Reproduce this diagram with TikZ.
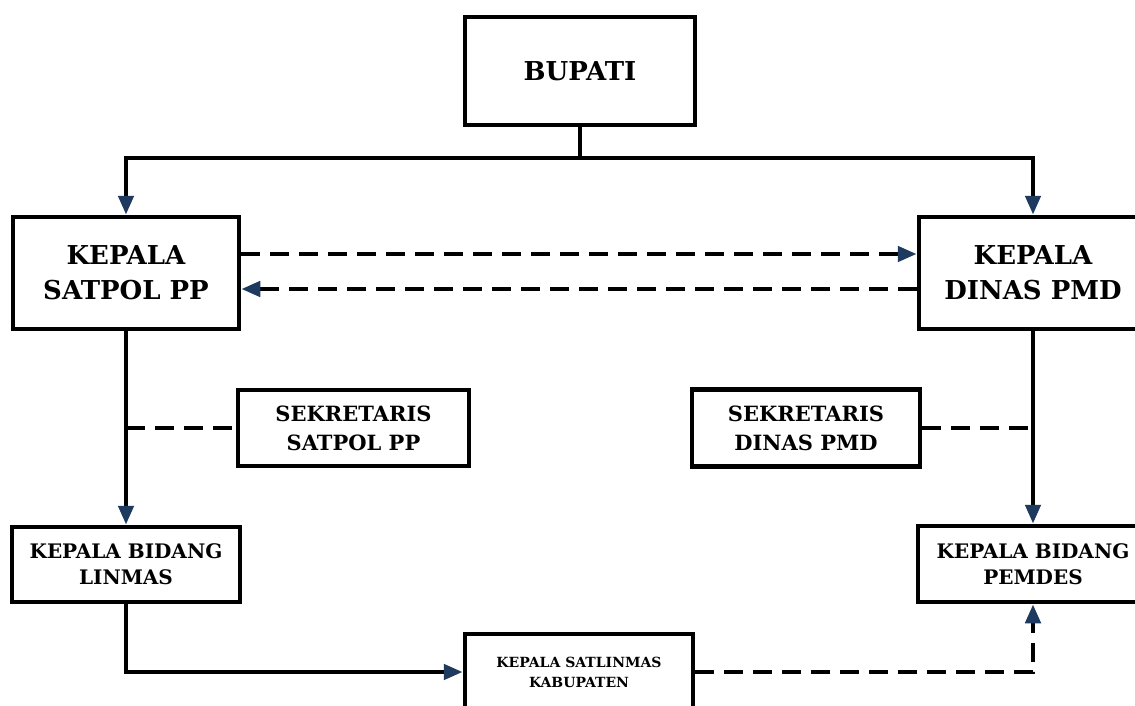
\documentclass[tikz,border=0pt]{standalone}
\usepackage{fontspec}
\setmainfont{DejaVu Serif}
\usetikzlibrary{arrows.meta}
\definecolor{navy}{HTML}{1F3A5F}
\begin{document}
\begin{tikzpicture}[x=1pt,y=-1pt,
  box/.style={draw, line width=4.5pt, inner sep=0pt, align=center},
  big/.style={font=\bfseries\fontsize{26}{35}\selectfont},
  sek/.style={font=\bfseries\fontsize{21}{29}\selectfont},
  bid/.style={font=\bfseries\fontsize{20}{26}\selectfont},
  sml/.style={font=\bfseries\fontsize{14}{20}\selectfont},
  conn/.style={line width=4.5pt},
  dsh/.style={line width=4.5pt, dash pattern=on 19pt off 10pt},
  tip/.style={-{Triangle[length=19pt,width=15pt,color=navy]}}]
\clip (0,0) rectangle (1135,706);
\fill[white] (0,0) rectangle (1135,706);
\node[box, big, minimum width=230pt, minimum height=108pt] (bupati) at (580,71) {BUPATI};
\node[box, big, minimum width=226pt, minimum height=112pt] (satpol) at (126,273) {KEPALA\\SATPOL PP};
\node[box, big, minimum width=228pt, minimum height=112pt] (dinas) at (1033,273) {KEPALA\\DINAS PMD};
\node[box, sek, minimum width=231pt, minimum height=76pt] (seksat) at (353.5,428) {SEKRETARIS\\SATPOL PP};
\node[box, sek, minimum width=228pt, minimum height=77pt] (sekdin) at (806,428) {SEKRETARIS\\DINAS PMD};
\node[box, bid, minimum width=228pt, minimum height=75pt] (linmas) at (126,564.5) {KEPALA BIDANG\\LINMAS};
\node[box, bid, minimum width=230pt, minimum height=76pt] (pemdes) at (1033,564) {KEPALA BIDANG\\PEMDES};
\node[box, sml, minimum width=228pt, minimum height=76pt] (satlin) at (579,672) {KEPALA SATLINMAS\\KABUPATEN};
\coordinate (top) at (580,158);
\draw[conn] (bupati.south) -- (top);
\draw[conn, tip] (top) -| (satpol.north);
\draw[conn, tip] (top) -| (dinas.north);
\draw[dsh, tip] ([yshift=19pt]satpol.east) -- ([yshift=19pt]dinas.west);
\draw[dsh, tip] ([yshift=-16pt]dinas.west) -- ([yshift=-16pt]satpol.east);
\draw[conn, tip] (satpol.south) -- (linmas.north);
\draw[conn, tip] (dinas.south) -- (pemdes.north);
\draw[dsh] (satpol.south |- seksat.west) -- (seksat.west);
\draw[dsh] (sekdin.east) -- (dinas.south |- sekdin.east);
\draw[conn, tip] (linmas.south) |- (satlin.west);
\draw[dsh, tip] (satlin.east) -| (pemdes.south);
\end{tikzpicture}
\end{document}
